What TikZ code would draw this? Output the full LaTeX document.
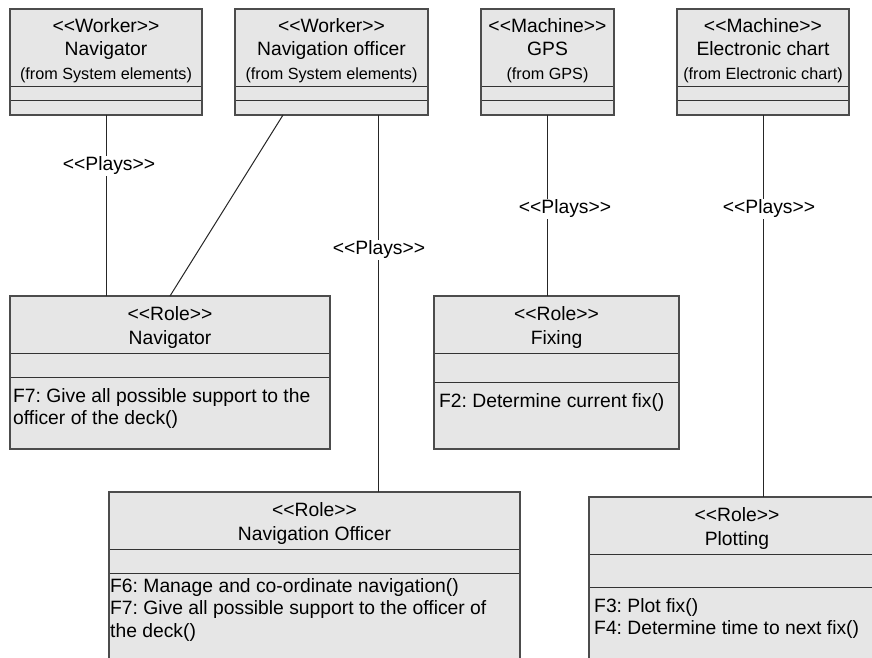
\documentclass[tikz,border=0pt]{standalone}
\usepackage{fontspec}
\setmainfont{Liberation Sans}[Ligatures=TeXOff]
\usepackage{xcolor}
\usetikzlibrary{positioning, calc}
\definecolor{umlfill}{RGB}{230,230,230}
\newcommand{\stereo}[1]{\rule{0pt}{19.5pt}<<#1>>}
\newcommand{\fromtxt}[1]{{\fontsize{16.2}{23.5}\selectfont(from #1)}}
\frenchspacing

\begin{document}
\begin{tikzpicture}[x=1pt, y=-1pt, every node/.style={font=\fontsize{19.3}{23.5}\selectfont}]
    \tikzstyle{comp}=[rectangle, draw=black!80, line width=0.8pt, fill=umlfill, inner sep=0pt, outer sep=0pt, align=center]
    \tikzstyle{frame}=[draw=black!70, line width=1.5pt]
    \tikzstyle{optext}=[anchor=north west, align=left, inner sep=0pt, font=\fontsize{19.3}{22.5}\selectfont]
    \tikzstyle{assoc}=[draw=black!85, line width=1pt]
    \tikzstyle{plays}=[fill=white, inner sep=1.5pt]

    \useasboundingbox (0,0) rectangle (872,658);
    \clip (0,0) rectangle (872,658);
    \fill[white] (0,0) rectangle (872,658);

    % workers and machines
    \node[comp, minimum width=192pt, minimum height=77pt] (navwh) at (106,47.5) {\stereo{Worker}\\Navigator\\\fromtxt{System elements}};
    \node[comp, minimum width=192pt, minimum height=14pt, below=0pt of navwh] (navwa) {};
    \node[comp, minimum width=192pt, minimum height=15pt, below=0pt of navwa] (navwo) {};

    \node[comp, minimum width=193pt, minimum height=77pt] (offwh) at (331.5,47.5) {\stereo{Worker}\\Navigation officer\\\fromtxt{System elements}};
    \node[comp, minimum width=193pt, minimum height=14pt, below=0pt of offwh] (offwa) {};
    \node[comp, minimum width=193pt, minimum height=15pt, below=0pt of offwa] (offwo) {};

    \node[comp, minimum width=133pt, minimum height=77pt] (gpsmh) at (547.5,47.5) {\stereo{Machine}\\GPS\\\fromtxt{GPS}};
    \node[comp, minimum width=133pt, minimum height=14pt, below=0pt of gpsmh] (gpsma) {};
    \node[comp, minimum width=133pt, minimum height=15pt, below=0pt of gpsma] (gpsmo) {};

    \node[comp, minimum width=172pt, minimum height=77pt] (chartmh) at (763,47.5) {\stereo{Machine}\\Electronic chart\\\fromtxt{Electronic chart}};
    \node[comp, minimum width=172pt, minimum height=14pt, below=0pt of chartmh] (chartma) {};
    \node[comp, minimum width=172pt, minimum height=15pt, below=0pt of chartma] (chartmo) {};

    % roles
    \node[comp, minimum width=320pt, minimum height=57pt] (navrh) at (170,324.5) {\stereo{Role}\\Navigator};
    \node[comp, minimum width=320pt, minimum height=24pt, below=0pt of navrh] (navra) {};
    \node[comp, minimum width=320pt, minimum height=72pt, below=0pt of navra] (navro) {};

    \node[comp, minimum width=245pt, minimum height=57pt] (fixrh) at (556.5,324.5) {\stereo{Role}\\Fixing};
    \node[comp, minimum width=245pt, minimum height=29pt, below=0pt of fixrh] (fixra) {};
    \node[comp, minimum width=245pt, minimum height=67pt, below=0pt of fixra] (fixro) {};

    \node[comp, minimum width=411pt, minimum height=57pt] (offrh) at (314.5,520.5) {\stereo{Role}\\Navigation Officer};
    \node[comp, minimum width=411pt, minimum height=24pt, below=0pt of offrh] (offra) {};
    \node[comp, minimum width=411pt, minimum height=127pt, below=0pt of offra] (offro) {};

    \node[comp, minimum width=296pt, minimum height=57pt] (plotrh) at (737,525.5) {\stereo{Role}\\Plotting};
    \node[comp, minimum width=296pt, minimum height=33pt, below=0pt of plotrh] (plotra) {};
    \node[comp, minimum width=296pt, minimum height=113pt, below=0pt of plotra] (plotro) {};

    \foreach \c in {navw, offw, gpsm, chartm, navr, fixr, offr, plotr}
        \draw[frame] (\c h.north west) rectangle (\c o.south east);

    % operations
    \node[optext] (navrtxt) at ($(navro.north west)+(3,11)$) {F7: Give all possible support to the\\officer of the deck()};
    \node[optext] (fixrtxt) at ($(fixro.north west)+(5,11)$) {F2: Determine current fix()};
    \node[optext] (offrtxt) at ($(offro.north west)+(1,5)$) {F6: Manage and co-ordinate navigation()\\F7: Give all possible support to the officer of\\the deck()};
    \node[optext] (plotrtxt) at ($(plotro.north west)+(5,11)$) {F3: Plot fix()\\F4: Determine time to next fix()};

    \coordinate (offdiag) at ($(offwo.south)+(-48.5,0)$);
    \coordinate (offvert) at ($(offwo.south)+(46.5,0)$);

    \draw[assoc] (navwo.south) -- (navwo.south |- navrh.north);
    \draw[assoc] (offdiag) -- (navrh.north);
    \draw[assoc] (offvert) -- (offvert |- offrh.north);
    \draw[assoc] (gpsmo.south) -- (gpsmo.south |- fixrh.north);
    \draw[assoc] (chartmo.south) -- (chartmo.south |- plotrh.north);

    \node[plays] (plays1) at (109,166) {<<Plays>>};
    \node[plays] (plays2) at (379,250) {<<Plays>>};
    \node[plays] (plays3) at (565,209) {<<Plays>>};
    \node[plays] (plays4) at (769,209) {<<Plays>>};
\end{tikzpicture}
\end{document}
